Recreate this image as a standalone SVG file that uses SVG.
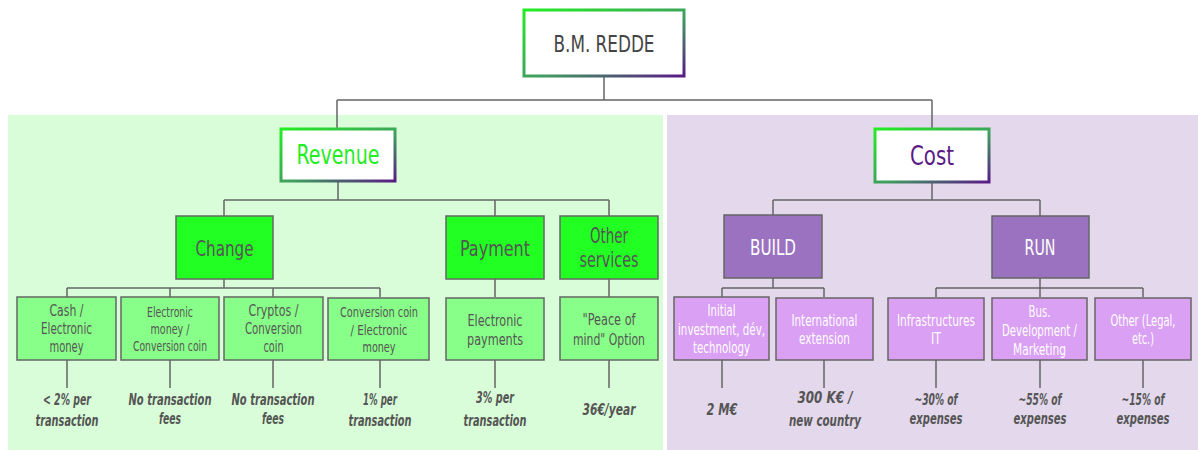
<svg xmlns="http://www.w3.org/2000/svg" width="1198" height="450" viewBox="0 0 1198 450">
<defs>
<linearGradient id="bord" x1="0" y1="0" x2="1" y2="1">
<stop offset="0" stop-color="#22ee22"/>
<stop offset="0.55" stop-color="#3f9f5f"/>
<stop offset="1" stop-color="#5a1a86"/>
</linearGradient>
<style>
text{font-family:"DejaVu Sans Condensed","Liberation Sans",sans-serif;text-anchor:middle;}
.top{fill:#fff;stroke:url(#bord);stroke-width:3;}
.mid{fill:#22ff22;stroke:#666;stroke-width:1.5;}
.leafg{fill:#88ff88;stroke:#666;stroke-width:1.5;}
.midp{fill:#9b72c0;stroke:#666;stroke-width:1.5;}
.leafp{fill:#d9a0f4;stroke:#666;stroke-width:1.5;}
.t1{font-size:23px;fill:#444;}
.t2{font-size:26px;}
.t3{font-size:22px;fill:#555;}
.t3w{font-size:22px;fill:#fff;}
.t4{font-size:16px;fill:#555;}
.t4s{font-size:13.5px;fill:#555;}
.t4w{font-size:16px;fill:#fff;}
.note{font-size:15.5px;fill:#555;font-style:italic;font-weight:bold;}
.conn{stroke:#666;stroke-width:1.5;fill:none;}
</style>
</defs>
<rect x="8" y="115" width="655" height="335" fill="#d9fdd8"/>
<rect x="667" y="115" width="531" height="335" fill="#e3d8ec"/>
<g id="connectors" class="conn">
<path d="M604 76V100M337 100H932M337 100V129M932 100V129"/>
<path d="M338 181V200M224 200H609M224 200V216M495 200V216M609 200V216"/>
<path d="M224 279V288M67 288H380M67 288V297M170 288V297M273 288V297M380 288V297"/>
<path d="M495 279V297M609 279V297"/>
<path d="M932 182V200M773 200H1040M773 200V215M1040 200V216"/>
<path d="M773 278V288M722 288H824M722 288V297M824 288V297"/>
<path d="M1040 278V288M936 288H1143M936 288V297M1040 288V297M1143 288V297"/>
<path d="M67 360V388M170 360V388M273 360V388M380 360V388M495 360V388M609 360V388"/>
<path d="M722 360V388M824 360V388M936 360V388M1040 360V388M1143 360V388"/>
</g>
<g id="n-root"><rect class="top" x="524" y="10" width="160" height="66"/><text class="t1" x="604" y="52" textLength="101" lengthAdjust="spacingAndGlyphs">B.M. REDDE</text></g>
<g id="n-revenue"><rect class="top" x="281" y="129" width="114" height="52"/><text class="t2" x="338" y="164" fill="#22ee22" textLength="83" lengthAdjust="spacingAndGlyphs">Revenue</text></g>
<g id="n-cost"><rect class="top" x="875" y="129" width="114" height="53"/><text class="t2" x="932" y="165" fill="#5a1a86" textLength="44" lengthAdjust="spacingAndGlyphs">Cost</text></g>
<g id="n-change"><rect class="mid" x="176" y="216" width="97" height="63"/><text class="t3" x="224.5" y="256" textLength="58" lengthAdjust="spacingAndGlyphs">Change</text></g>
<g id="n-payment"><rect class="mid" x="446" y="216" width="98" height="63"/><text class="t3" x="495" y="256" textLength="70" lengthAdjust="spacingAndGlyphs">Payment</text></g>
<g id="n-other"><rect class="mid" x="560" y="216" width="98" height="63"/><text class="t3" x="609" y="243" textLength="38" lengthAdjust="spacingAndGlyphs">Other</text><text class="t3" x="609" y="267" textLength="59" lengthAdjust="spacingAndGlyphs">services</text></g>
<g id="n-build"><rect class="midp" x="724" y="215" width="98" height="63"/><text class="t3w" x="773" y="255" textLength="46" lengthAdjust="spacingAndGlyphs">BUILD</text></g>
<g id="n-run"><rect class="midp" x="992" y="216" width="97" height="62"/><text class="t3w" x="1040" y="255" textLength="31" lengthAdjust="spacingAndGlyphs">RUN</text></g>
<g id="n-cash"><rect class="leafg" x="17" y="297" width="99" height="63"/><text class="t4" x="66.5" y="316" textLength="34" lengthAdjust="spacingAndGlyphs">Cash /</text><text class="t4" x="66.5" y="334" textLength="51" lengthAdjust="spacingAndGlyphs">Electronic</text><text class="t4" x="66.5" y="352" textLength="34" lengthAdjust="spacingAndGlyphs">money</text></g>
<g id="n-emoney"><rect class="leafg" x="121" y="297" width="98" height="63"/><text class="t4s" x="170" y="317" textLength="46" lengthAdjust="spacingAndGlyphs">Electronic</text><text class="t4s" x="170" y="334" textLength="39" lengthAdjust="spacingAndGlyphs">money /</text><text class="t4s" x="170" y="351" textLength="74" lengthAdjust="spacingAndGlyphs">Conversion coin</text></g>
<g id="n-cryptos"><rect class="leafg" x="224" y="297" width="99" height="63"/><text class="t4" x="273.5" y="316" textLength="50" lengthAdjust="spacingAndGlyphs">Cryptos /</text><text class="t4" x="273.5" y="334" textLength="57" lengthAdjust="spacingAndGlyphs">Conversion</text><text class="t4" x="273.5" y="352" textLength="20" lengthAdjust="spacingAndGlyphs">coin</text></g>
<g id="n-conv"><rect class="leafg" x="328" y="298" width="101" height="62"/><text class="t4s" x="379" y="317" textLength="78" lengthAdjust="spacingAndGlyphs">Conversion coin</text><text class="t4s" x="379" y="335" textLength="57" lengthAdjust="spacingAndGlyphs">/ Electronic</text><text class="t4s" x="379" y="352" textLength="33" lengthAdjust="spacingAndGlyphs">money</text></g>
<g id="n-epay"><rect class="leafg" x="446" y="298" width="98" height="62"/><text class="t4" x="495" y="326" textLength="55" lengthAdjust="spacingAndGlyphs">Electronic</text><text class="t4" x="495" y="345" textLength="56" lengthAdjust="spacingAndGlyphs">payments</text></g>
<g id="n-peace"><rect class="leafg" x="560" y="297" width="98" height="63"/><text class="t4" x="609" y="325" textLength="53" lengthAdjust="spacingAndGlyphs">"Peace of</text><text class="t4" x="609" y="345" textLength="72" lengthAdjust="spacingAndGlyphs">mind" Option</text></g>
<g id="n-initial"><rect class="leafp" x="674" y="297" width="95" height="63"/><text class="t4w" x="721.5" y="316" textLength="28" lengthAdjust="spacingAndGlyphs">Initial</text><text class="t4w" x="721.5" y="335" textLength="87" lengthAdjust="spacingAndGlyphs">investment,  dév,</text><text class="t4w" x="721.5" y="353" textLength="57" lengthAdjust="spacingAndGlyphs">technology</text></g>
<g id="n-intl"><rect class="leafp" x="776" y="298" width="97" height="62"/><text class="t4w" x="824.5" y="326" textLength="66" lengthAdjust="spacingAndGlyphs">International</text><text class="t4w" x="824.5" y="344" textLength="51" lengthAdjust="spacingAndGlyphs">extension</text></g>
<g id="n-infra"><rect class="leafp" x="888" y="298" width="96" height="62"/><text class="t4w" x="936" y="326" textLength="78" lengthAdjust="spacingAndGlyphs">Infrastructures</text><text class="t4w" x="936" y="344" textLength="10" lengthAdjust="spacingAndGlyphs">IT</text></g>
<g id="n-busdev"><rect class="leafp" x="992" y="298" width="95" height="62"/><text class="t4w" x="1039.5" y="317" textLength="22" lengthAdjust="spacingAndGlyphs">Bus.</text><text class="t4w" x="1039.5" y="336" textLength="75" lengthAdjust="spacingAndGlyphs">Development /</text><text class="t4w" x="1039.5" y="355" textLength="53" lengthAdjust="spacingAndGlyphs">Marketing</text></g>
<g id="n-otherlegal"><rect class="leafp" x="1095" y="298" width="96" height="62"/><text class="t4w" x="1143" y="326" textLength="65" lengthAdjust="spacingAndGlyphs">Other (Legal,</text><text class="t4w" x="1143" y="344" textLength="22" lengthAdjust="spacingAndGlyphs">etc.)</text></g>
<g id="notes">
<text class="note" x="67" y="405" textLength="48" lengthAdjust="spacingAndGlyphs">&lt; 2% per</text><text class="note" x="67" y="426" textLength="63" lengthAdjust="spacingAndGlyphs">transaction</text>
<text class="note" x="170" y="405" textLength="83" lengthAdjust="spacingAndGlyphs">No transaction</text><text class="note" x="170" y="424" textLength="22" lengthAdjust="spacingAndGlyphs">fees</text>
<text class="note" x="273" y="405" textLength="83" lengthAdjust="spacingAndGlyphs">No transaction</text><text class="note" x="273" y="424" textLength="22" lengthAdjust="spacingAndGlyphs">fees</text>
<text class="note" x="380" y="405" textLength="34" lengthAdjust="spacingAndGlyphs">1% per</text><text class="note" x="380" y="426" textLength="63" lengthAdjust="spacingAndGlyphs">transaction</text>
<text class="note" x="495" y="403" textLength="38" lengthAdjust="spacingAndGlyphs">3% per</text><text class="note" x="495" y="426" textLength="63" lengthAdjust="spacingAndGlyphs">transaction</text>
<text class="note" x="609" y="415" textLength="53" lengthAdjust="spacingAndGlyphs">36€/year</text>
<text class="note" x="722" y="415" textLength="31" lengthAdjust="spacingAndGlyphs">2 M€</text>
<text class="note" x="825" y="403" textLength="55" lengthAdjust="spacingAndGlyphs">300 K€  /</text><text class="note" x="825" y="426" textLength="72" lengthAdjust="spacingAndGlyphs">new country</text>
<text class="note" x="936" y="405" textLength="43" lengthAdjust="spacingAndGlyphs">~30% of</text><text class="note" x="936" y="424" textLength="53" lengthAdjust="spacingAndGlyphs">expenses</text>
<text class="note" x="1040" y="405" textLength="43" lengthAdjust="spacingAndGlyphs">~55% of</text><text class="note" x="1040" y="424" textLength="53" lengthAdjust="spacingAndGlyphs">expenses</text>
<text class="note" x="1143" y="405" textLength="43" lengthAdjust="spacingAndGlyphs">~15% of</text><text class="note" x="1143" y="424" textLength="53" lengthAdjust="spacingAndGlyphs">expenses</text>
</g>
</svg>
